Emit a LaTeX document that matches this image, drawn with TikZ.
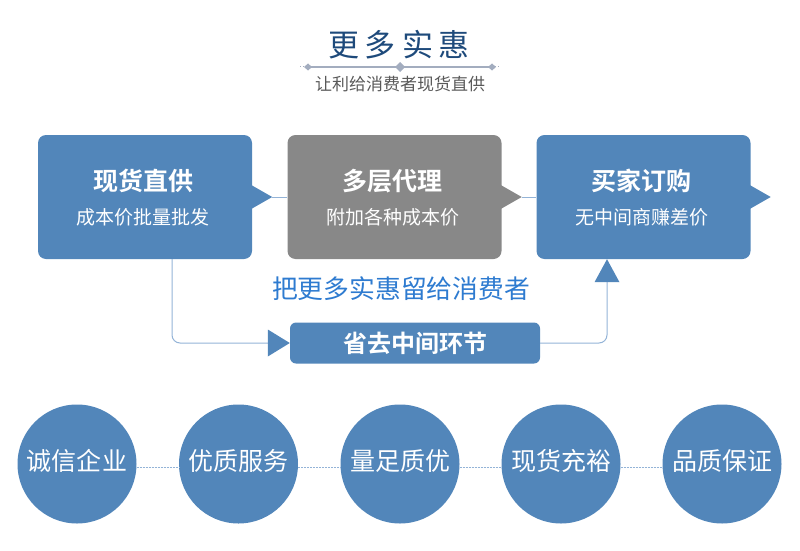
\documentclass[tikz,border=0pt]{standalone}
\usepackage{fontspec}
\newfontfamily\cjk{Noto Sans CJK SC}
\newfontfamily\cjkb{Noto Sans CJK SC Bold}
\usetikzlibrary{calc}
\definecolor{boxblue}{HTML}{5286BA}
\definecolor{boxgray}{HTML}{888888}
\definecolor{connblue}{HTML}{93B3D7}
\definecolor{midblue}{HTML}{2E7BD0}
\definecolor{titleblue}{HTML}{1E4A7B}
\definecolor{rulegray}{HTML}{A3ADBF}
\newcommand{\fsz}[1]{\fontsize{#1pt}{#1pt}\selectfont}
\tikzset{
  bigbox/.style={rectangle, rounded corners=8pt, minimum width=214pt, minimum height=124pt, inner sep=0pt},
  boxtitle/.style={text=white, font=\cjkb\fsz{25}, inner sep=0pt},
  boxsub/.style={text=white, font=\cjk\fsz{19}, inner sep=0pt},
  conn/.style={draw=connblue, line width=1pt},
  circ/.style={circle, fill=boxblue, minimum size=119pt, inner sep=0pt},
  circtext/.style={text=white, font=\cjk\fsz{25}, inner sep=0pt},
  dashline/.style={draw=connblue, line width=0.8pt, dash pattern=on 2pt off 1pt},
}
\begin{document}
\begin{tikzpicture}[x=1pt,y=-1pt]
\useasboundingbox (0,0) rectangle (800,551);
% header
\node[text=titleblue, font=\cjk\fsz{31}, inner sep=0pt] (title) at (399,45) {更\hspace{6pt}多\hspace{6pt}实\hspace{6pt}惠};
\coordinate (rl) at (308,67);
\coordinate (rr) at (492,67);
\coordinate (rc) at (400,67);
\draw[rulegray, line width=2pt] (rl) -- (rr);
\draw[rulegray, line width=1pt, dotted] ($(rl)+(-8,0)$) -- (rl);
\draw[rulegray, line width=1pt, dotted] (rr) -- ($(rr)+(8,0)$);
\fill[rulegray] ($(rl)+(-4,0)$) -- ($(rl)+(0,-3.5)$) -- ($(rl)+(4,0)$) -- ($(rl)+(0,3.5)$) -- cycle;
\fill[rulegray] ($(rr)+(-4,0)$) -- ($(rr)+(0,-3.5)$) -- ($(rr)+(4,0)$) -- ($(rr)+(0,3.5)$) -- cycle;
\fill[rulegray] ($(rc)+(-5,0)$) -- ($(rc)+(0,-5)$) -- ($(rc)+(5,0)$) -- ($(rc)+(0,5)$) -- cycle;
\node[text=black!65, font=\cjk\fsz{17}, inner sep=0pt] (subtitle) at (400,84) {让利给消费者现货直供};
% boxes
\node[bigbox, fill=boxblue] (b1) at (145,197) {};
\node[bigbox, fill=boxgray] (b2) at (394.5,197) {};
\node[bigbox, fill=boxblue] (b3) at (643.5,197) {};
\foreach \b/\c in {b1/boxblue, b2/boxgray, b3/boxblue}{
  \fill[\c] ($(\b.east)+(-1,-12)$) -- ($(\b.east)+(20,0)$) -- ($(\b.east)+(-1,12)$) -- cycle;
  \coordinate (\b tip) at ($(\b.east)+(20,0)$);
}
\draw[conn] (b1tip) -- (b2.west);
\draw[conn] (b2tip) -- (b3.west);
\node[boxtitle] (t1) at (143,181) {现货直供};
\node[boxsub] (s1) at (143,217) {成本价批量批发};
\node[boxtitle] (t2) at (392.5,181) {多层代理};
\node[boxsub] (s2) at (392.5,217) {附加各种成本价};
\node[boxtitle] (t3) at (641.5,181) {买家订购};
\node[boxsub] (s3) at (641.5,217) {无中间商赚差价};
% middle text
\node[text=midblue, font=\cjk\fsz{25.8}, inner sep=0pt] (mid) at (401,289) {把更多实惠留给消费者};
% bottom box
\node[rectangle, rounded corners=6pt, fill=boxblue, minimum width=250pt, minimum height=41pt, inner sep=0pt, text=white, font=\cjkb\fsz{24}] (m) at (415,343) {省去中间环节};
\coordinate (lt) at ($(m.west)+(-22,0)$);
\coordinate (ls) at ($(b1.south)+(27,0)$);
\draw[conn, rounded corners=8pt] (ls) |- (lt);
\fill[boxblue] ($(lt)+(0,-13.5)$) -- (m.west) -- ($(lt)+(0,13.5)$) -- cycle;
\coordinate (rt) at ($(b3.south)+(-36.5,0)$);
\coordinate (rb) at ($(rt)+(0,23)$);
\draw[conn, rounded corners=8pt] (m.east) -| (rb);
\fill[boxblue] ($(rb)+(-12.5,0)$) -- (rt) -- ($(rb)+(12.5,0)$) -- cycle;
% circles
\foreach \n/\x/\t in {c1/77/诚信企业, c2/238.5/优质服务, c3/400/量足质优, c4/561/现货充裕, c5/722/品质保证}{
  \node[circ] (\n) at (\x,464) {};
  \node[circtext] (\n t) at (\x,461) {\t};
}
\foreach \a/\b in {c1/c2, c2/c3, c3/c4, c4/c5}{
  \draw[dashline] ($(\a.east)+(0,3)$) -- ($(\b.west)+(0,3)$);
}
\end{tikzpicture}
\end{document}
